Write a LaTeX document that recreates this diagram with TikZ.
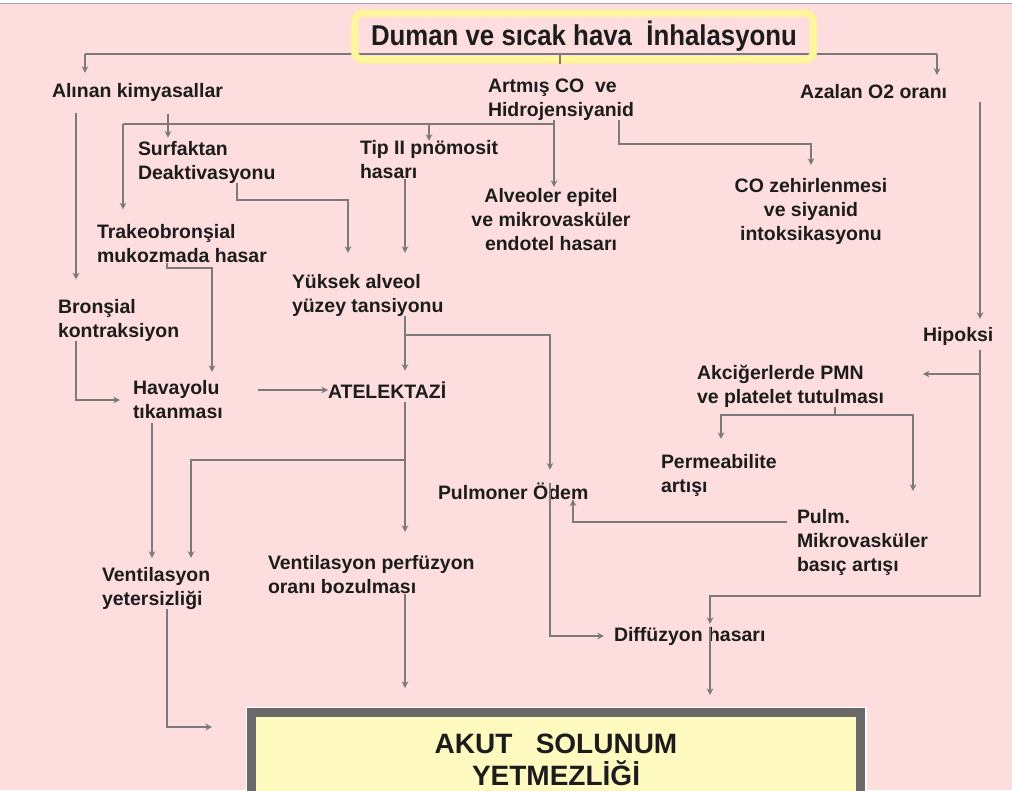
\documentclass[tikz,border=0pt]{standalone}
\usepackage{fontspec}
\usepackage{graphicx}
\setmainfont{Liberation Sans}
\usetikzlibrary{arrows.meta}
\definecolor{bgpink}{RGB}{253,221,221}
\definecolor{lnc}{RGB}{122,122,122}
\definecolor{txt}{RGB}{28,28,28}
\definecolor{glow}{RGB}{255,245,155}
\definecolor{framegray}{RGB}{105,105,105}
\definecolor{akfill}{RGB}{255,251,192}
\newcommand\lblfont{\fontsize{14.6pt}{18pt}\selectfont\bfseries}
\begin{document}
\begin{tikzpicture}[x=0.75pt,y=-0.75pt,
  lbl/.style={font=\lblfont,text=txt,inner sep=0pt,outer sep=0pt,align=left,anchor=west},
  lblc/.style={lbl,align=center,anchor=center},
  ln/.style={draw=lnc,line width=1.8pt},
  arr/.style={ln,-{Stealth[length=5pt,width=5pt]}},
  titlebox/.style={draw=glow,line width=5.5pt,rounded corners=6pt,minimum width=344pt,minimum height=35pt,
    inner sep=0pt,text=txt,font=\fontsize{21.5pt}{24pt}\selectfont\bfseries},
  akutbox/.style={draw=framegray,line width=6.75pt,fill=akfill,minimum width=456.75pt,minimum height=71.25pt,
    preaction={draw=white,line width=9pt},inner sep=0pt,align=center,text=txt,
    font=\fontsize{21pt}{24pt}\selectfont\bfseries}]
\useasboundingbox (0,0) rectangle (1012,790);
\clip (0,0) rectangle (1012,790);
\fill[bgpink] (0,0) rectangle (1012,790);
\fill[white] (0,0) rectangle (1012,3);
\draw[gray!70,line width=0.75pt] (0,3.5) -- (1012,3.5);

% column and row coordinates
\foreach \n/\v in {76/76,85/85,123/123,152/152,167/167,168/168,191/191,212/212,237/237,258/258,348/348,405/405,429/429,550/550,554/554,560/560,573/573,619/619,710/710,721/721,835/835,913/913,937/937,980/980}
  {\coordinate (c\n) at (\v,0);}
\foreach \n/\v in {54/54,124/124,144/144,200/200,268/268,335/335,374/374,415/415,460/460,522/522,596/596,727/727}
  {\coordinate (r\n) at (0,\v);}

% top bar (drawn below the title frame)
\draw[ln] (c85 |- r54) -- (c937 |- r54);

% title
\node[titlebox] (title) at (584,36.5) {\scalebox{0.9}[1]{Duman ve sıcak hava\ \ İnhalasyonu}};

% labels
\node[lbl] (alinan) at (52,92) {Alınan kimyasallar};
\node[lbl] (artmis) at (488,99.5) {Artmış CO\ \ ve\\Hidrojensiyanid};
\node[lbl] (azalan) at (800,92) {Azalan O2 oranı};
\node[lbl] (surf) at (138,162) {Surfaktan\\Deaktivasyonu};
\node[lbl] (tip) at (360,160) {Tip II pnömosit\\hasarı};
\node[lblc] (alv) at (551,220) {Alveoler epitel\\ve mikrovasküler\\endotel hasarı};
\node[lblc] (co) at (811,211) {CO zehirlenmesi\\ve siyanid\\intoksikasyonu};
\node[lbl] (trakeo) at (97,244) {Trakeobronşial\\mukozmada hasar};
\node[lbl] (yuksek) at (292,295) {Yüksek alveol\\yüzey tansiyonu};
\node[lbl] (bronsial) at (58,320) {Bronşial\\kontraksiyon};
\node[lbl] (hipoksi) at (923,336) {Hipoksi};
\node[lbl] (akc) at (697,386) {Akciğerlerde PMN\\ve platelet tutulması};
\node[lbl] (havayolu) at (133,400) {Havayolu\\tıkanması};
\node[lbl] (atel) at (328,390) {ATELEKTAZİ};
\node[lbl] (perm) at (661,475) {Permeabilite\\artışı};
\node[lbl] (pulmoner) at (438,491) {Pulmoner Ödem};
\node[lbl] (pulm) at (797,542) {Pulm.\\Mikrovasküler\\basıç artışı};
\node[lbl] (vent) at (102,588) {Ventilasyon\\yetersizliği};
\node[lbl] (vp) at (268,575) {Ventilasyon perfüzyon\\oranı bozulması};
\node[lbl] (diff) at (614,636) {Diffüzyon hasarı};
\node[akutbox] (akut) at (556,760) {AKUT\ \ \ SOLUNUM\\YETMEZLİĞİ};

% connectors
\draw[ln] (c560 |- r54) -- (c560 |- title.south);
\draw[arr,shorten >=7.5pt] (c85 |- r54) -- (c85 |- alinan.north);
\draw[arr,shorten >=7.5pt] (c937 |- r54) -- (c937 |- azalan.north);

\draw[arr,shorten <=9pt,shorten >=14.6pt] (c76 |- alinan.south) -- (c76 |- bronsial.north);
\draw[arr,shorten <=9.5pt,shorten >=2.5pt] (c168 |- alinan.south) -- (c168 |- surf.north);

\draw[arr,shorten >=1.5pt] (c554 |- artmis.south) -- (c554 |- alv.north);
\draw[ln] (c554 |- r124) -- (c123 |- r124);
\draw[arr,shorten >=11.6pt] (c123 |- r124) -- (c123 |- trakeo.north);
\draw[arr] (c429 |- r124) -- (c429 |- tip.north);
\draw[arr,shorten >=9.75pt] (c619 |- artmis.south) -- (c619 |- r144) -| (co.north);

\draw[arr,shorten >=15.75pt] (c237 |- surf.south) -- (c237 |- r200) -| (c348 |- yuksek.north);
\draw[arr,shorten >=15.75pt] (c405 |- tip.south) -- (c405 |- yuksek.north);

\draw[arr,shorten >=6.75pt] (c167 |- trakeo.south) -- (c167 |- r268) -| (c212 |- havayolu.north);
\draw[arr,shorten >=9.75pt] (c76 |- bronsial.south) |- (havayolu.west);
\draw[arr] (c258 |- atel.west) -- (atel.west);

\draw[arr,shorten >=8.25pt] (c405 |- yuksek.south) -- (c405 |- atel.north);
\draw[arr,shorten >=9.75pt] (c405 |- r335) -| (c550 |- pulmoner.north);
\draw[arr,shorten >=7.5pt] (c550 |- pulmoner.north) |- (diff.west);

\draw[arr,shorten <=3pt,shorten >=18pt] (c405 |- atel.south) -- (c405 |- vp.north);
\draw[arr,shorten >=6.75pt] (c405 |- r460) -| (c191 |- vent.north);
\draw[arr,shorten <=3pt,shorten >=6.75pt] (c152 |- havayolu.south) -- (c152 |- vent.north);

\draw[arr,shorten >=15pt] (c405 |- vp.south) -- (c405 |- akut.north);
\draw[arr,shorten >=26.25pt] (c167 |- vent.south) |- (akut.west |- r727);
\draw[arr,shorten >=9.75pt] (c710 |- diff.north) -- (c710 |- akut.north);

\draw[arr,shorten <=2pt,shorten >=6pt] (c980 |- azalan.south) -- (c980 |- hipoksi.north);
\draw[arr,shorten <=3.75pt,shorten >=2.25pt] (c980 |- hipoksi.south) |- (c710 |- r596) -- (c710 |- diff.north);
\draw[arr,shorten >=29pt] (c980 |- r374) -- (akc.east |- r374);
\draw[ln] (c835 |- akc.south) -- (c835 |- r415);
\draw[arr,shorten >=11.25pt] (c835 |- r415) -| (c721 |- perm.north);
\draw[arr,shorten >=13.5pt] (c835 |- r415) -| (c913 |- pulm.north);
\draw[arr,shorten <=7.5pt] (pulm.west |- r522) -| (c573 |- pulmoner.south);
\end{tikzpicture}
\end{document}
